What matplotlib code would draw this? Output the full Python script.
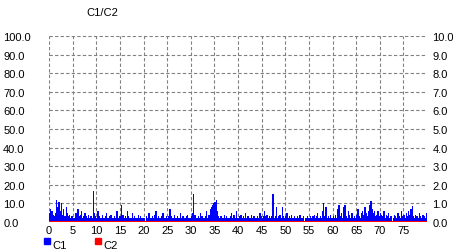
import matplotlib
matplotlib.use('Agg')
import matplotlib.pyplot as plt
from matplotlib.patches import Rectangle

c1 = [
    5, 7, 6, 4, 3, 5, 12, 8, 11, 6, 10, 4, 7, 3, 8, 5, 3, 4, 2, 3,
    2, 2, 5, 5, 7, 3, 4, 6, 2, 3, 5, 3, 2, 4, 2, 3, 2, 16.5, 5, 3,
    2, 6, 3, 2, 2, 4, 2, 3, 5, 2, 2, 3, 4, 2, 2, 3, 2, 6, 2, 3,
    3, 9, 4, 2, 3, 2, 6, 3, 2, 2, 5, 2, 3, 2, 2, 4, 2, 3, 2, 2,
    2, 0, 3, 2, 5, 2, 2, 3, 2, 4, 6, 2, 3, 2, 2, 3, 5, 2, 2, 3,
    2, 3, 7, 3, 2, 2, 4, 2, 3, 2, 2, 5, 2, 3, 2, 2, 3, 4, 2, 2,
    3, 5, 15, 4, 2, 2, 3, 2, 5, 3, 2, 2, 3, 6, 2, 4, 7, 8, 9, 10,
    11, 12, 6, 3, 2, 3, 2, 2, 4, 2, 3, 2, 2, 3, 5, 2, 4, 2, 6, 2,
    2, 3, 4, 2, 3, 2, 5, 2, 3, 2, 2, 4, 2, 3, 2, 2, 3, 2, 5, 3,
    2, 3, 6, 3, 4, 2, 3, 2, 3, 15, 2, 3, 8, 2, 3, 4, 2, 8, 3, 2,
    3, 5, 2, 3, 2, 4, 2, 3, 2, 2, 3, 2, 4, 2, 2, 3, 0, 2, 3, 2,
    2, 3, 2, 3, 4, 2, 3, 5, 2, 3, 2, 6, 10, 3, 8, 2, 3, 2, 4, 2,
    3, 2, 4, 2, 7, 9, 3, 5, 2, 8, 9, 3, 2, 6, 4, 2, 5, 2, 3, 2,
    4, 7, 3, 2, 5, 6, 4, 8, 5, 3, 6, 9, 11.5, 7, 5, 6, 3, 4, 6, 3,
    5, 4, 3, 6, 2, 4, 3, 5, 2, 3, 0, 2, 4, 3, 2, 5, 3, 2, 6, 3,
    4, 2, 5, 3, 6, 4, 7, 8.5, 3, 2, 4, 3, 2, 5, 3, 2, 4, 3, 2, 5,
]
c2 = [0.0] * len(c1)
x = [i * 0.25 for i in range(len(c1))]

x_ticks = list(range(0, 80, 5))
left_ticks = [0, 10, 20, 30, 40, 50, 60, 70, 80, 90, 100]
right_ticks = [0, 1, 2, 3, 4, 5, 6, 7, 8, 9, 10]

plt.rcParams['font.family'] = ['Liberation Sans', 'DejaVu Sans']
plt.rcParams['font.size'] = 8

W, H = 453, 253
fig = plt.figure(figsize=(W / 100, H / 100), dpi=100)
fig.patch.set_facecolor('white')

x0, x1 = 49, 427
y0, y1 = 37, 223
ax = fig.add_axes([x0 / W, 1 - y1 / H, (x1 - x0) / W, (y1 - y0) / H])

ax.bar(x, c1, width=0.27, align='edge', color='#0000ff', linewidth=0, antialiased=False)
ax.plot([0, 80], [c2[0], c2[-1]], color='#ff0000', linewidth=1.5, solid_capstyle='butt')

ax.set_xlim(0, 80)
ax.set_ylim(0, 100)
ax.set_xticks(x_ticks)
ax.set_xticklabels([str(t) for t in x_ticks])
ax.set_yticks(left_ticks)
ax.set_yticklabels(['%.1f' % t for t in left_ticks])
for lab in ax.get_yticklabels():
    lab.set_horizontalalignment('left')
ax.tick_params(axis='y', length=0, pad=33)
ax.tick_params(axis='x', length=0, pad=2)
ax.grid(True, color='#808080', linestyle=(0, (3, 2)), linewidth=0.8)
ax.set_axisbelow(True)
for s in ax.spines.values():
    s.set_visible(False)

ax2 = ax.twinx()
ax2.set_ylim(0, 10)
ax2.set_yticks(right_ticks)
ax2.set_yticklabels(['%.1f' % t for t in right_ticks])
ax2.tick_params(axis='y', length=0, pad=4)
for s in ax2.spines.values():
    s.set_visible(False)

fig.text(102 / W, 1 - 13 / H, 'C1/C2', ha='center', va='center', fontsize=8)

# legend
fig.add_artist(Rectangle((44 / W, 1 - 245 / H), 6 / W, 6 / H, color='#0000ff', transform=fig.transFigure))
fig.text(52 / W, 1 - 246 / H, 'C1', ha='left', va='center', fontsize=8)
fig.add_artist(Rectangle((95 / W, 1 - 245 / H), 6 / W, 6 / H, color='#ff0000', transform=fig.transFigure))
fig.text(103 / W, 1 - 246 / H, 'C2', ha='left', va='center', fontsize=8)

fig.savefig('out.png', dpi=100)
